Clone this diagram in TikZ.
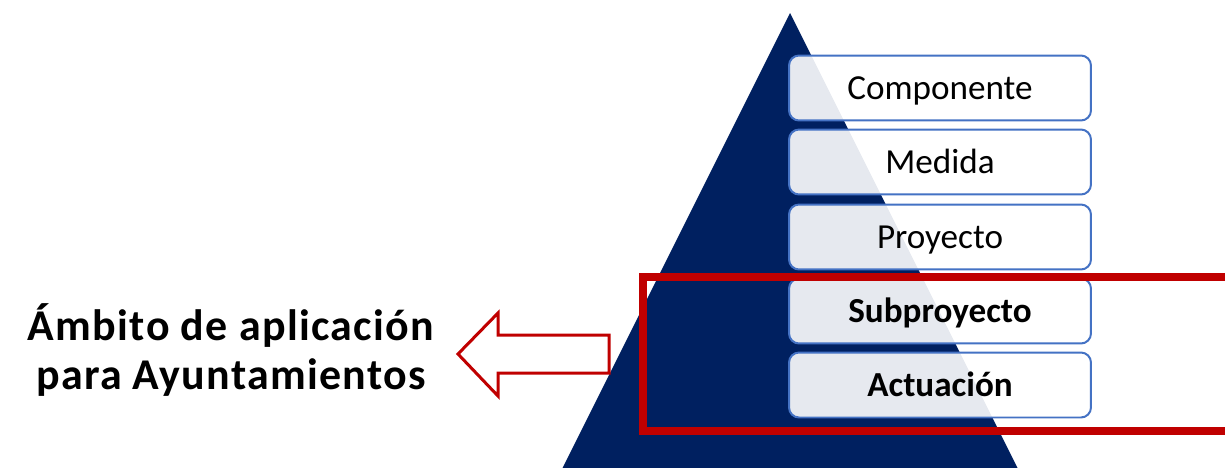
\documentclass[tikz,border=0pt]{standalone}
\usepackage{fontspec}
\setmainfont{Carlito}
\usepackage{tikz}
\usetikzlibrary{calc}
\definecolor{navy}{HTML}{002060}
\definecolor{boxline}{HTML}{4472C4}
\definecolor{darkred}{HTML}{C00000}
\tikzset{
	levelbox/.style={draw=boxline, line width=0.04cm, rounded corners=0.2cm, fill=white, fill opacity=0.9, text opacity=1, minimum width=6.04cm, minimum height=1.3cm, inner sep=0pt, text height=12.8pt, text depth=0pt, font=\fontsize{20}{24}\selectfont, text=black},
}
\begin{document}
\begin{tikzpicture}[x=0.02cm, y=-0.02cm]
			%%%%% START %%%%%
			
			\clip (0, 0) rectangle (1225, 467);
			
			\fill[navy] (790, 13) -- (540, 513) -- (1040, 513) -- cycle;
			
			\node[levelbox] (componente) at (940, 88) {Componente};
			\node[levelbox] (medida) at (940, 162) {Medida};
			\node[levelbox] (proyecto) at (940, 237) {Proyecto};
			\node[levelbox, font=\fontsize{20}{24}\selectfont\bfseries] (subproyecto) at (940, 311) {Subproyecto};
			\node[levelbox, font=\fontsize{20}{24}\selectfont\bfseries] (actuacion) at (940, 385) {Actuación};
			
			\draw[line width=0.16cm, color=darkred] (643, 276.5) rectangle (1260, 430.5);
			
			\draw[line width=0.06cm, color=darkred, fill=white] (458, 354) -- (498, 313) -- (498, 335) -- (609, 335) -- (609, 373) -- (498, 373) -- (498, 396) -- cycle;
			
			\node[align=center, font=\fontsize{25}{28.4}\selectfont\bfseries\addfontfeatures{LetterSpace=3}] (ambito) at (231, 350) {Ámbito de aplicación\\para Ayuntamientos};
			
			%%%%% END %%%%%
		\end{tikzpicture}
\end{document}
